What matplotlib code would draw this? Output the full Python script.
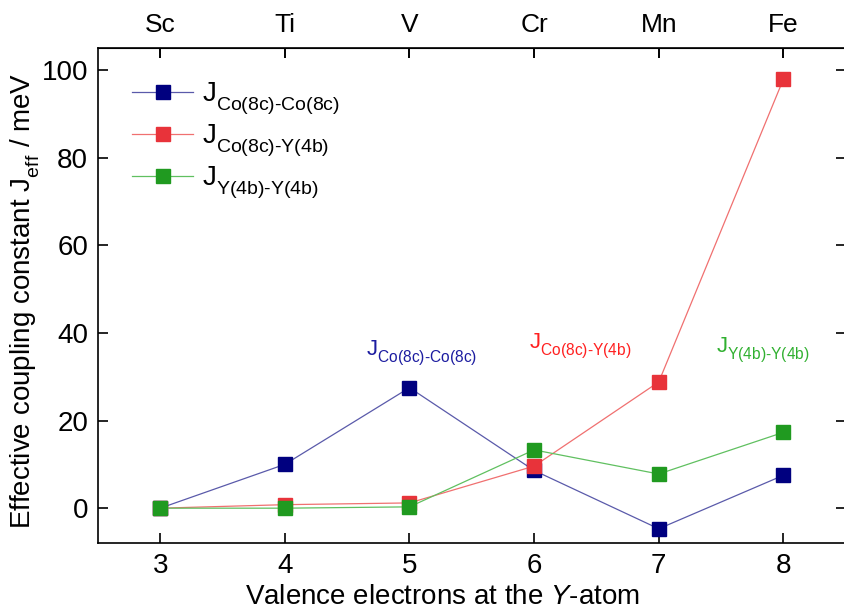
import matplotlib
matplotlib.use("Agg")
import matplotlib.pyplot as plt
import matplotlib._mathtext as mathtext_internals

plt.rcParams["font.family"] = ["Liberation Sans", "DejaVu Sans"]
plt.rcParams["mathtext.fontset"] = "custom"
plt.rcParams["mathtext.rm"] = "Liberation Sans"
plt.rcParams["mathtext.it"] = "Liberation Sans:italic"
# the original drops its subscripts lower than mathtext does by default
mathtext_internals.FontConstantsBase.sub1 = 0.65

# valence electrons at the Y atom and the matching element
electrons = [3, 4, 5, 6, 7, 8]
elements = ["Sc", "Ti", "V", "Cr", "Mn", "Fe"]

# effective coupling constants (meV)
j_co_co = [0.0, 10.0, 27.5, 8.6, -4.7, 7.5]
j_co_y = [0.0, 0.8, 1.2, 9.6, 28.8, 97.9]
j_y_y = [0.0, 0.0, 0.3, 13.3, 7.8, 17.3]

series = [
    (j_co_co, r"$\mathrm{J}_{\text{Co(8c)-Co(8c)}}$", "#00007f", "#5a5aaa"),
    (j_co_y, r"$\mathrm{J}_{\text{Co(8c)-Y(4b)}}$", "#e8333a", "#f07070"),
    (j_y_y, r"$\mathrm{J}_{\text{Y(4b)-Y(4b)}}$", "#209a20", "#60c060"),
]

fig = plt.figure(figsize=(8.44, 6.09), dpi=100)
ax = fig.add_axes([0.116, 0.108, 0.886, 0.813])

for vals, lab, mc, lc in series:
    ax.plot(electrons, vals, color=lc, lw=0.9, marker="s", ms=9.5,
            mfc=mc, mec=mc, label=lab)

ax.set_xlim(2.5, 8.5)
ax.set_ylim(-8, 105)
ax.set_xticks(electrons)
ax.set_yticks([0, 20, 40, 60, 80, 100])
ax.tick_params(direction="in", labelsize=20, length=7, width=1.2,
               top=True, right=True, pad=7)
for sp in ax.spines.values():
    sp.set_linewidth(1.2)

top = ax.secondary_xaxis("top")
top.set_xticks(electrons)
top.set_xticklabels(elements)
top.tick_params(direction="in", labelsize=19, length=7, width=1.2, pad=8)

ax.set_xlabel(r"Valence electrons at the $\mathit{Y}$-atom", fontsize=20)
ax.xaxis.set_label_coords(0.461, -0.082)
ax.set_ylabel(r"Effective coupling constant $\mathrm{J}_{\mathrm{eff}}$ / meV",
              fontsize=20)
ax.yaxis.set_label_coords(-0.075, 0.49)

ax.text(4.65, 35, r"$\mathrm{J}_{\text{Co(8c)-Co(8c)}}$", color="#1c1ca0",
        fontsize=16)
ax.text(5.96, 36.5, r"$\mathrm{J}_{\text{Co(8c)-Y(4b)}}$", color="#ff2020",
        fontsize=16)
ax.text(7.46, 35.5, r"$\mathrm{J}_{\text{Y(4b)-Y(4b)}}$", color="#30b030",
        fontsize=16)

ax.legend(loc="upper left", bbox_to_anchor=(0.031, 0.957), frameon=False,
          fontsize=20, handlelength=2.2, labelspacing=0.2, handletextpad=0.3,
          borderaxespad=0)

fig.savefig("out.png", dpi=100)
